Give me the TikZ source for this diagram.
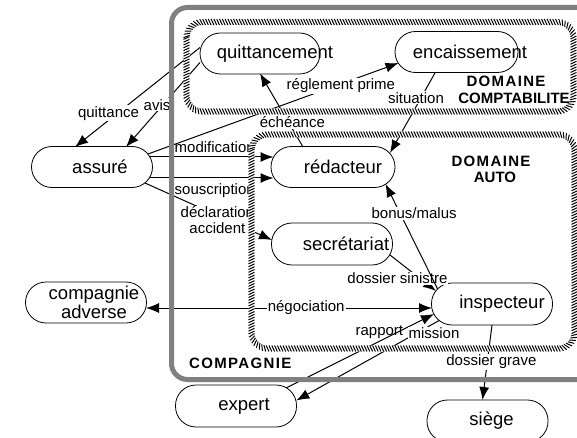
\documentclass[tikz,border=0pt]{standalone}
\usepackage{fontspec}
\setmainfont{Liberation Sans}
\usetikzlibrary{arrows.meta,decorations.markings}

\tikzset{
  state/.style={draw, line width=0.8pt, rectangle, rounded corners=20.5pt,
    minimum width=121pt, minimum height=41pt, inner sep=0pt},
  stext/.style={font=\fontsize{18.5}{16}\selectfont, inner sep=0pt, align=center},
  flow/.style={line width=1pt, -{Latex[length=13pt,width=10pt]}},
  twoway/.style={line width=1pt, {Latex[length=13pt,width=10pt]}-{Latex[length=13pt,width=10pt]}},
  lbl/.style={fill=white, inner sep=1pt, font=\fontsize{15}{16}\selectfont, align=center},
  title/.style={font=\fontsize{15}{16}\selectfont\bfseries, inner sep=0pt},
  company/.style={draw=black!50, line width=5pt, rounded corners=16pt},
  hatchframe/.style={draw=white, line width=6pt, rounded corners=16pt,
    postaction={decorate, decoration={markings,
      mark=between positions 0 and 1 step 2.8pt with
        {\draw[black, line width=1pt] (-1.4pt,3pt) -- (1.4pt,-3pt);}}}},
}

\begin{document}
\begin{tikzpicture}[x=1pt,y=-1pt]
\useasboundingbox (0,0) rectangle (577,438);

% actors and services
\node[state, minimum width=120pt, label={[stext,xshift=15pt]center:quittancement}] (q) at (260,53.5) {};
\node[state, minimum width=123pt, label={[stext,xshift=13.5pt]center:encaissement}] (enc) at (456.5,52) {};
\node[state, label={[stext,xshift=8pt]center:assuré}] (ass) at (92,167) {};
\node[state, minimum width=124pt, label={[stext,xshift=10pt]center:rédacteur}] (red) at (333,167) {};
\node[state, minimum height=42pt, label={[stext,xshift=14pt]center:secrétariat}] (sec) at (332,244) {};
\node[state, minimum height=42pt, label={[stext,xshift=10pt]center:inspecteur}] (insp) at (492,304) {};
\node[state, label={[stext,xshift=8pt]center:compagnie\\adverse}] (adv) at (86,302.5) {};
\node[state, minimum height=42pt, label={[stext,xshift=8pt]center:expert}] (exp) at (236,406) {};
\node[state, minimum height=42pt, label={[stext,xshift=4pt]center:siège}] (sie) at (487.5,421) {};

% flows
\draw[flow] ([shift={(-60,-6)}]q.center) -- node[lbl,pos=0.66,xshift=-9pt]{quittance} ([shift={(-17,-20)}]ass.center);
\draw[flow] ([shift={(-60,9)}]q.center) -- node[lbl,pos=0.5,xshift=-6pt]{avis} ([shift={(34,-20)}]ass.center);
\draw[flow] ([shift={(56,-13)}]ass.center) -- node[lbl,pos=0.77,yshift=-2pt]{réglement prime} ([shift={(-58,11)}]enc.center);
\draw[flow] ([shift={(-30,-20)}]red.center) -- node[lbl,pos=0.34,xshift=4pt]{échéance} ([shift={(0,20)}]q.center);
\draw[flow] ([shift={(58,-10)}]ass.center) -- node[lbl,fill=none,above=3pt,xshift=3pt]{modification} ([shift={(-59.5,-10)}]red.center);
\draw[flow] ([shift={(58,11)}]ass.center) -- node[lbl,fill=none,below=4pt,xshift=3pt]{souscription} ([shift={(-59.5,11)}]red.center);
\draw[flow] ([shift={(53,16)}]ass.center) -- node[lbl,pos=0.57,yshift=-5pt]{déclaration\\accident} ([shift={(-60,-4)}]sec.center);
\draw[flow] ([shift={(-21,20)}]enc.center) -- node[lbl,pos=0.32,xshift=-5pt]{situation} ([shift={(57,-14)}]red.center);
\draw[flow] ([shift={(58,11)}]sec.center) -- node[lbl,pos=0.64,xshift=-22pt]{dossier sinistre} ([shift={(-56,-13)}]insp.center);
\draw[flow] ([shift={(-54.4,-15)}]insp.center) -- node[lbl,pos=0.72,xshift=14pt]{bonus/malus} ([shift={(52.5,17)}]red.center);
\draw[twoway] ([shift={(-60,4)}]insp.center) -- node[lbl,pos=0.44]{négociation} ([shift={(60,5.5)}]adv.center);
\draw[flow] ([shift={(50.4,-18.2)}]exp.center) -- node[lbl,fill=none,pos=0.63,yshift=9pt]{rapport} ([shift={(-58,10)}]insp.center);
\draw[flow] ([shift={(-52.7,16.4)}]insp.center) -- node[lbl,pos=0.1,xshift=9pt,yshift=-5pt]{mission} ([shift={(60.3,-5.5)}]exp.center);
\draw[flow] ([shift={(0,21)}]insp.center) -- node[lbl,pos=0.49,xshift=4pt]{dossier grave} ([shift={(-5,-21)}]sie.center);

% company and its two domains
\draw[company] (171.5,7.5) rectangle (600,379.5);
\draw[hatchframe] (186.5,22) rectangle (573.5,111.5);
\draw[hatchframe] (251.5,134.5) rectangle (574.5,348.5);

\node[title] (tc1) at (506,81) {\addfontfeatures{LetterSpace=9}DOMAINE};
\node[title] (tc2) at (514,98) {COMPTABILITE};
\node[title] (ta1) at (491,161.5) {\addfontfeatures{LetterSpace=9}DOMAINE};
\node[title] (ta2) at (495,177.5) {AUTO};
\node[title, anchor=west] (tco) at (189,363) {\addfontfeatures{LetterSpace=9}COMPAGNIE};
\end{tikzpicture}
\end{document}
